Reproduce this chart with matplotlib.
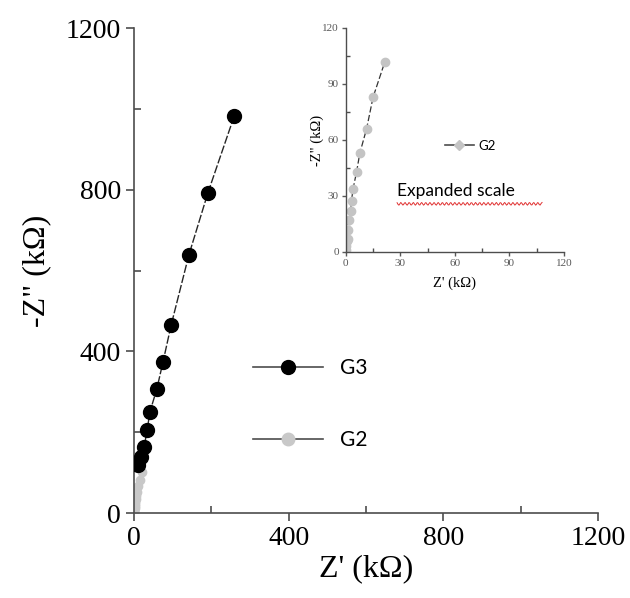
import numpy as np
import matplotlib.pyplot as plt
from matplotlib.lines import Line2D

# данные (кОм)
g3_re = [10, 18, 26, 34, 41, 59, 75, 96, 142, 191, 259]
g3_im = [119, 139, 163, 205, 250, 307, 374, 465, 639, 792, 982]

g2_re = [0.2, 0.3, 0.5, 0.9, 1.3, 1.8, 2.6, 3.1, 4.0, 5.9, 7.7, 11.4, 15.0, 21.5]
g2_im = [1, 3, 6, 7, 12, 17, 22, 27.5, 34, 43, 53, 66, 83, 102]

main_ticks = [0, 400, 800, 1200]
inset_ticks = [0, 30, 60, 90, 120]

serif = 'Liberation Serif'

fig = plt.figure(figsize=(6.3, 5.98), dpi=100)
ax = fig.add_axes([0.2127, 0.142, 0.7365, 0.811])

ax.plot(g2_re, g2_im, color='0.35', lw=0.8, ls=(0, (5, 2)), marker='o', ms=6,
        mfc='#c8c8c8', mec='#c8c8c8', zorder=2)
ax.plot(g3_re, g3_im, color='0.15', lw=1.0, ls=(0, (6, 1.5)), marker='o', ms=10,
        mfc='black', mec='black', zorder=3)

ax.set_xlim(0, 1200)
ax.set_ylim(0, 1200)
ax.set_xticks(main_ticks)
ax.set_yticks(main_ticks)
ax.set_xticks([200, 600, 1000], minor=True)
ax.set_yticks([200, 600, 1000], minor=True)
for s in ['top', 'right']:
    ax.spines[s].set_visible(False)
for s in ['left', 'bottom']:
    ax.spines[s].set_color('0.3')
    ax.spines[s].set_linewidth(1.2)
ax.tick_params(which='major', direction='out', length=6, width=1.2, color='0.3')
ax.tick_params(which='minor', direction='in', length=5, width=1.2, color='0.3')
ax.tick_params(labelsize=20)
for lab in ax.get_xticklabels() + ax.get_yticklabels():
    lab.set_fontfamily(serif)
ax.set_xlabel("Z' (k\u03a9)", fontsize=23, family=serif, labelpad=2)
ax.set_ylabel('-Z" (k\u03a9)', fontsize=23, family=serif, labelpad=10)

h3 = Line2D([], [], color='0.3', lw=1.2, marker='o', ms=10, mfc='black', mec='black')
h2 = Line2D([], [], color='0.3', lw=1.2, marker='o', ms=9, mfc='#c8c8c8', mec='#c8c8c8')
ax.legend([h3, h2], ['G3', 'G2'], loc='upper left', bbox_to_anchor=(0.215, 0.358),
          frameon=False, handlelength=3.4, labelspacing=2.5, handletextpad=0.8,
          prop={'family': 'Lato', 'size': 15})

# вставка с увеличенным масштабом
ins = fig.add_axes([0.549, 0.5786, 0.346, 0.3746])
ins.plot(g2_re, g2_im, color='0.2', lw=0.9, ls=(0, (5, 2)), marker='o', ms=6,
         mfc='#c4c4c4', mec='#c4c4c4')
ins.set_xlim(0, 120)
ins.set_ylim(0, 120)
ins.set_xticks(inset_ticks)
ins.set_yticks(inset_ticks)
ins.set_xticks([15, 45, 75, 105], minor=True)
ins.set_yticks([15, 45, 75, 105], minor=True)
for s in ['top', 'right']:
    ins.spines[s].set_visible(False)
for s in ['left', 'bottom']:
    ins.spines[s].set_color('0.3')
    ins.spines[s].set_linewidth(1.0)
ins.tick_params(which='major', direction='out', length=3, width=1.0, color='0.3')
ins.tick_params(which='minor', direction='in', length=3, width=1.0, color='0.3')
ins.tick_params(labelsize=8, colors='0.35', pad=2)
for lab in ins.get_xticklabels() + ins.get_yticklabels():
    lab.set_fontfamily(serif)
ins.set_xlabel("Z' (k\u03a9)", fontsize=10.5, family=serif, labelpad=6)
ins.set_ylabel('-Z" (k\u03a9)', fontsize=10.5, family=serif, labelpad=-1)

hi = Line2D([], [], color='0.3', lw=1.2, marker='D', ms=5, mfc='#c4c4c4', mec='#c4c4c4')
ins.legend([hi], ['G2'], loc='center left', bbox_to_anchor=(0.4, 0.475), frameon=False,
           handlelength=2.2, handletextpad=0.3, prop={'family': 'Lato', 'size': 9.5})

ins.text(0.235, 0.235, 'Expanded scale', transform=ins.transAxes, fontsize=12.5,
         family='Lato', va='bottom')
# красная волнистая линия проверки орфографии
wx = np.linspace(0.235, 0.9, 160)
wy = 0.215 + 0.006 * np.sin(wx * 330)
ins.plot(wx, wy, color='#e03030', lw=0.7, transform=ins.transAxes, clip_on=False)

fig.savefig('out.png', dpi=100, facecolor='white')
